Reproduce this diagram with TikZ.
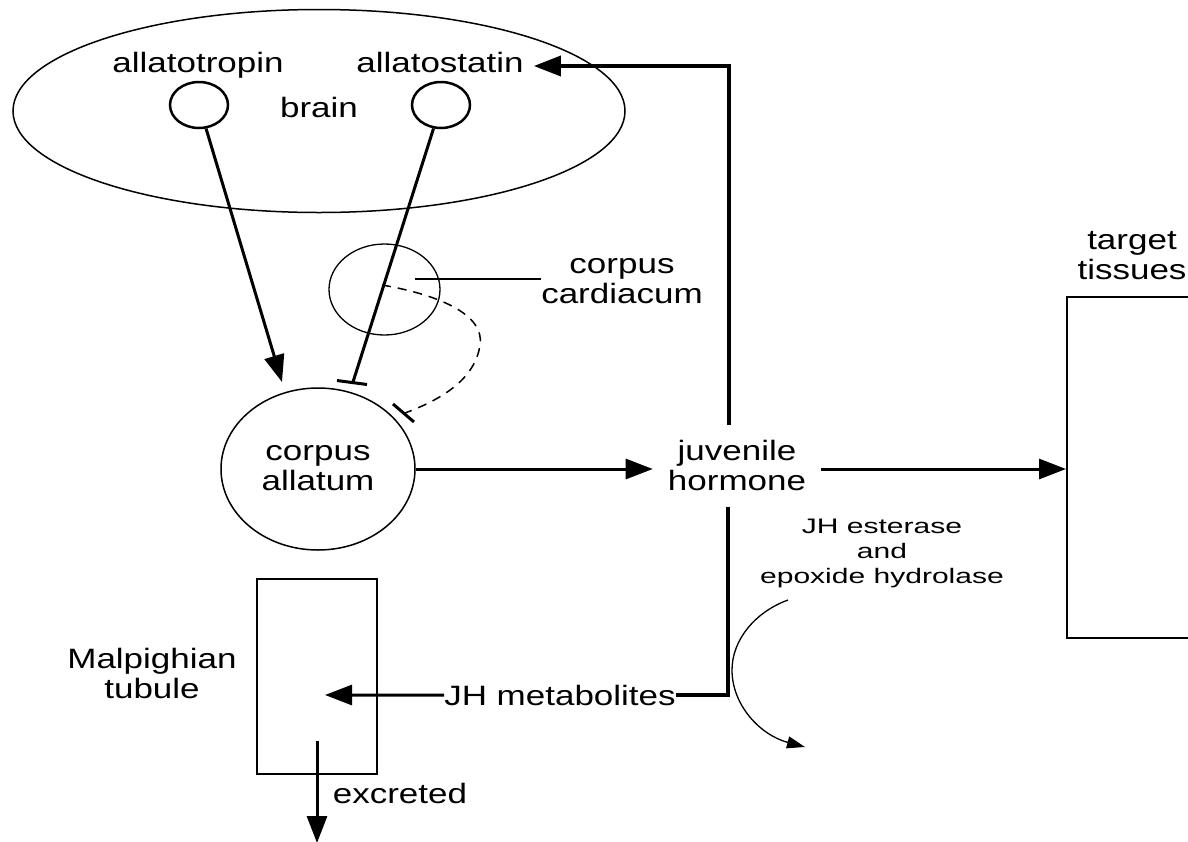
\documentclass[tikz,border=0pt]{standalone}
\usepackage{fontspec}
\setmainfont{Liberation Sans}[FakeStretch=1.25]
\newfontfamily\smallfont{Liberation Sans}[FakeStretch=1.43]
\usetikzlibrary{arrows.meta,shapes.geometric,calc}
\begin{document}
\begin{tikzpicture}[x=1pt,y=-1pt,
  lbl/.style={inner sep=0pt, align=center, font=\fontsize{28}{30}\selectfont},
  sml/.style={inner sep=0pt, align=center, font=\smallfont\fontsize{21}{25}\selectfont},
  arr/.style={line width=3pt, -{Triangle[length=27pt,width=20pt]}},
  inh/.style={line width=3pt},
  oval/.style={ellipse, draw, inner sep=0pt},
  box/.style={draw, line width=2pt, inner sep=0pt},
  dashinh/.style={line width=1.5pt, dash pattern=on 9pt off 7pt},
  thinarr/.style={line width=1.3pt, -{Triangle[length=18pt,width=12pt]}}
]
\clip (0,0) rectangle (1188,841);
\fill[white] (0,0) rectangle (1188,841);

% brain and neurons
\node[oval, lbl, line width=1.5pt, minimum width=612pt, minimum height=203pt] (brain) at (319,111) {\strut brain};
\node[oval, line width=2.5pt, minimum width=58pt, minimum height=46pt] (atp) at (199,105) {};
\node[oval, line width=2.5pt, minimum width=58pt, minimum height=46pt] (ast) at (441,105) {};
\node[lbl, anchor=base] (atpl) at (198,72) {\strut allatotropin};
\node[lbl, anchor=base, inner xsep=10pt] (astl) at (440,72) {\strut allatostatin};

% corpus cardiacum
\node[oval, line width=1.3pt, minimum width=111pt, minimum height=91pt] (cc) at (384.5,289.5) {};
\node[lbl] (ccl) at (622,282) {\strut corpus\\\strut cardiacum};

% corpus allatum
\node[oval, lbl, line width=1.5pt, minimum width=194pt, minimum height=162pt] (ca) at (318,469) {\strut corpus\\\strut allatum};

% juvenile hormone
\node[lbl, inner xsep=15pt] (jh) at (737,469) {\strut juvenile\\\strut hormone};

% target tissues
\node[lbl] (tl) at (1132,258) {\strut target\\\strut tissues};
\node[box, minimum width=240pt, minimum height=341pt] (tt) at (1187,467.5) {};

% enzymes
\node[sml] (enz) at (882,553) {\strut JH esterase\\\strut and\\\strut epoxide hydrolase};

% metabolites and Malpighian tubule
\node[lbl, anchor=base] (met) at (560,705) {\strut JH metabolites};
\node[box, minimum width=120pt, minimum height=195pt] (mt) at (317,676.5) {};
\node[lbl] (mtl) at (152,677) {\strut Malpighian\\\strut tubule};
\node[lbl, anchor=base] (exl) at (400,803) {\strut excreted};

% coordinates
\coordinate (atip) at (282,382);
\coordinate (ib1) at (353,382);
\coordinate (ccpt) at (382,285);
\coordinate (ib2) at (405,413);
\coordinate (cclead) at (415,279);
\coordinate (jhtop) at (729,425);
\coordinate (jhbot) at (728,507);
\coordinate (mtip) at (325,695);
\coordinate (exs) at (317,741);
\coordinate (exe) at (317,843);
\coordinate (es1) at (788,600);
\coordinate (es2) at (805,747);

% connectors
\draw[arr] (atp) -- (atip);
\draw[inh] (ast) -- (ib1);
\draw[inh] ($(ib1)+(-16,-1.5)$) -- ($(ib1)+(14,2.5)$);
\draw[dashinh] (ccpt) .. controls (440,295) and (485,315) .. (480,345) .. controls (475,380) and (440,400) .. (ib2);
\draw[inh] ($(ib2)+(-12,-9)$) -- ($(ib2)+(9,9)$);
\draw[line width=1.5pt] (cclead) -- (cclead -| ccl.west);
\draw[arr, line width=3.5pt] (jhtop) |- (astl.east);
\draw[arr] (ca.east) -- (jh.west);
\draw[arr] (jh.east) -- (jh.east -| tt.west);
\draw[line width=3.5pt] (jhbot) |- ([yshift=4pt]met.east);
\draw[arr] ([yshift=4pt]met.west) -- (mtip);
\draw[arr] (exs) -- (exe);
\draw[thinarr] (es1) .. controls (755,612) and (732,640) .. (732,670) .. controls (732,705) and (760,735) .. (es2);
\end{tikzpicture}
\end{document}
